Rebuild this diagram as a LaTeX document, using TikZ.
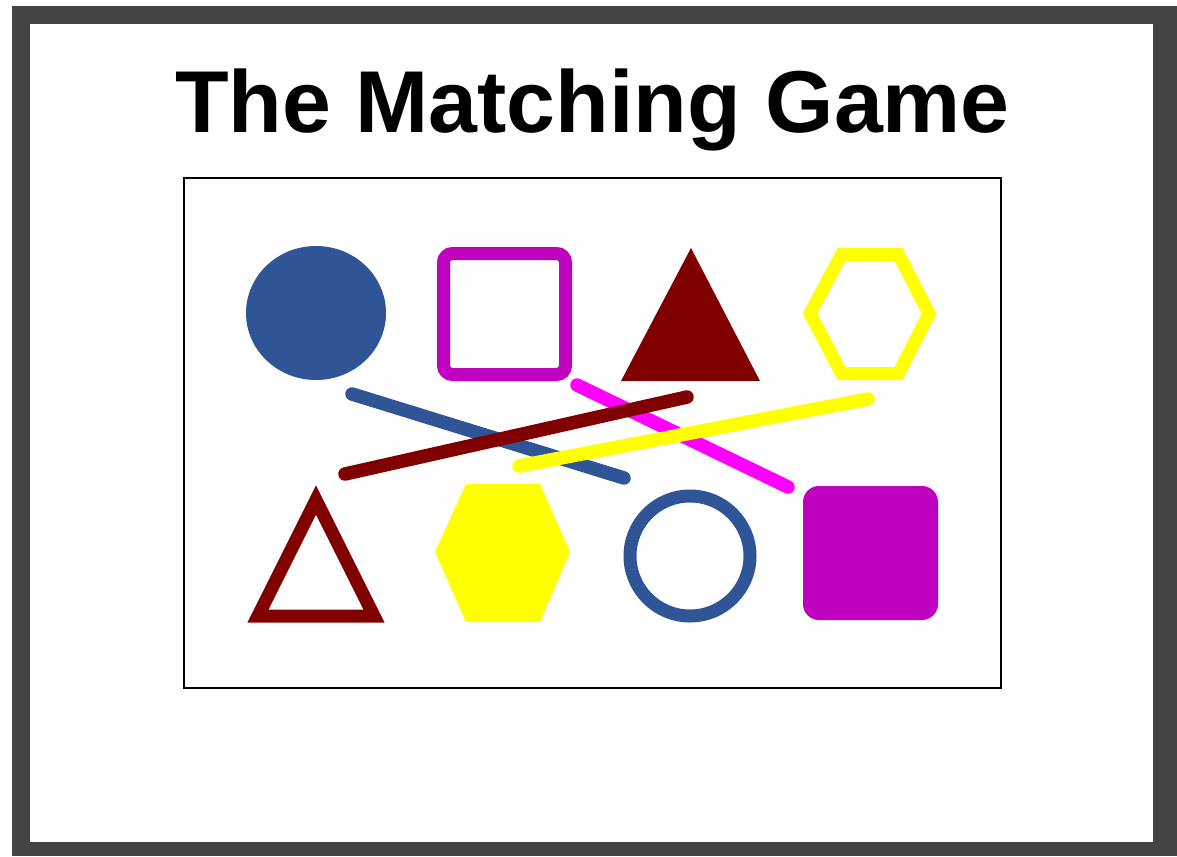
\documentclass[tikz,border=0pt]{standalone}
\usepackage{fontspec}
\setmainfont{Liberation Sans}
\usetikzlibrary{positioning}

\definecolor{steelblue}{RGB}{47,85,151}
\definecolor{purplemag}{RGB}{192,0,192}
\definecolor{maroon}{RGB}{128,0,0}
\definecolor{brightyel}{RGB}{255,255,0}
\definecolor{pinkmag}{RGB}{255,0,255}
\definecolor{framegray}{RGB}{68,68,68}

\begin{document}
\begin{tikzpicture}[
    x=0.02cm, y=-0.02cm,
    outl/.style={line width=0.26cm, fill=none},
    match/.style={line width=0.27cm, line cap=round}
]
    \useasboundingbox (0,0) rectangle (1177,856);
    % page frame
    \fill[framegray] (12,6) rectangle (1177,856);
    \fill[white] (30,24) rectangle (1153,842);

    \node[anchor=base, inner sep=0pt, font=\fontsize{50}{60}\selectfont\bfseries] (title) at (592.5,132) {The Matching Game};

    \draw[line width=0.8pt] (184,178) rectangle (1001,688);

    % top row
    \fill[steelblue] (316,313) ellipse [x radius=70, y radius=67];
    \draw[outl, purplemag, rounded corners=0.18cm] (443.5,253.5) rectangle (565.5,374.5);
    \fill[maroon] (691,248) -- (760,381) -- (621,381) -- cycle;
    \draw[outl, brightyel] (810,313.5) -- (841.5,254.5) -- (898.5,254.5) -- (929,313.5) -- (898.5,373.5) -- (841.5,373.5) -- cycle;

    % bottom row
    \draw[outl, maroon] (316,500) -- (374,616) -- (258,616) -- cycle;
    \fill[brightyel] (435,552) -- (466,484) -- (540,484) -- (570,552) -- (540,622) -- (466,622) -- cycle;
    \draw[outl, steelblue] (690,556) circle [radius=60];
    \fill[purplemag, rounded corners=0.32cm] (803,486) rectangle (938,620);

    % matching lines, drawn in this order for the overlaps
    \draw[match, steelblue] (352,394) -- (624,478);
    \draw[match, pinkmag] (577,385) -- (788,487);
    \draw[match, maroon] (345,474) -- (687,397);
    \draw[match, brightyel] (519,466) -- (868,399);
\end{tikzpicture}
\end{document}
